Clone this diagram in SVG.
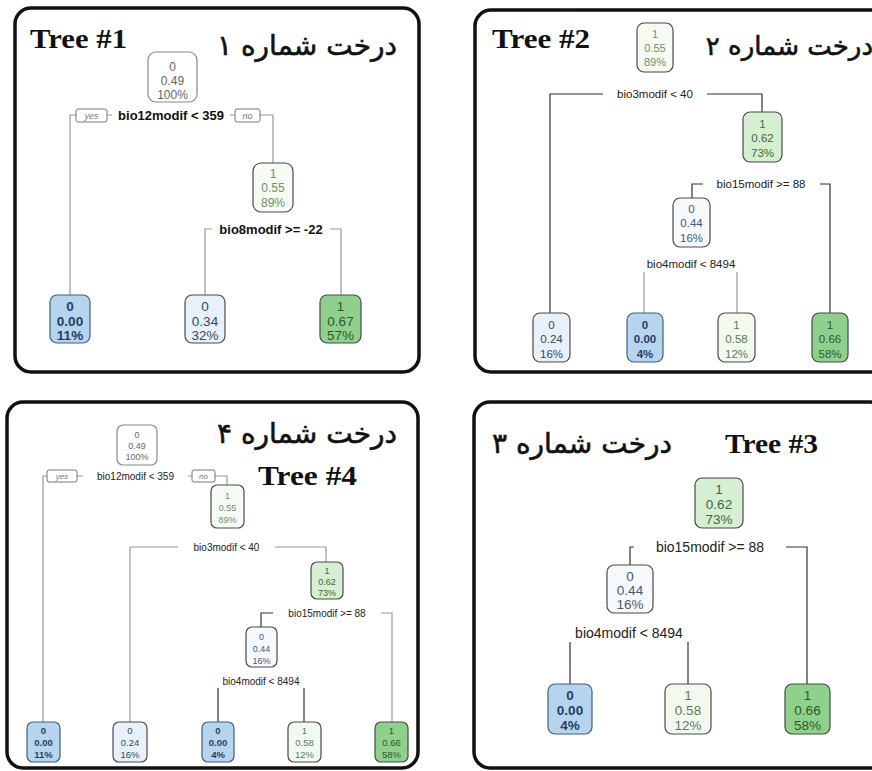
<svg xmlns="http://www.w3.org/2000/svg" width="872" height="771" viewBox="0 0 872 771">
<style>
.frame{fill:#fff;stroke:#111;stroke-width:3.5}
.title{font-family:"Liberation Serif",serif;font-weight:bold;font-size:28px;fill:#111}
.fa{font-family:"DejaVu Sans",sans-serif;font-size:28px;fill:#111;stroke:#111;stroke-width:0.6}
.nd rect{stroke:#4a4a4a;stroke-width:1.2}
.nd text{font-family:"Liberation Sans",Arial,sans-serif;text-anchor:middle}
.root rect{fill:#fff;stroke:#888}
.root text{fill:#666}
.blue rect{fill:#b7d4ee;stroke:#3e5f7e}
.blue text{fill:#1f3f66;font-weight:bold}
.lblue rect{fill:#e8f1fa}
.lblue text{fill:#34495f}
.pale rect{fill:#f6f9fd}
.pale text{fill:#4a5a6a}
.g0 rect{fill:#f6fbf4}
.g0 text{fill:#6f8f6f}
.g1 rect{fill:#d6eed2}
.g1 text{fill:#3c6a3c}
.g2 rect{fill:#f2faef}
.g2 text{fill:#5a7a5a}
.g3 rect{fill:#8fd08c}
.g3 text{fill:#2b5a2b}
.cn{fill:none;stroke:#999;stroke-width:1.2}
.cn2{fill:none;stroke:#333;stroke-width:1.2}
.lbl{font-family:"Liberation Sans",Arial,sans-serif;fill:#111;font-weight:bold;text-anchor:middle}
.lbln{font-family:"Liberation Sans",Arial,sans-serif;fill:#222;text-anchor:middle}
.yn{fill:#fff;stroke:#777;stroke-width:1}
.ynt{font-family:"Liberation Sans",Arial,sans-serif;font-style:italic;fill:#777;text-anchor:middle}
</style>

<!-- Panel 1 -->
<g id="panel1">
<rect class="frame" x="15" y="8" width="404" height="364" rx="16"/>
<text class="title" x="30" y="48" textLength="97" lengthAdjust="spacingAndGlyphs">Tree #1</text>
<text class="fa" x="397" y="55" text-anchor="end">درخت شماره ۱</text>
<g id="p1-connectors">
<path class="cn" d="M70,295 V115 H76 M107,115 H112 M230,115 H235 M260,115 H273 V163"/>
<rect class="yn" x="76" y="109" width="31" height="13" rx="2"/>
<text class="ynt" x="91.5" y="119" font-size="9">yes</text>
<rect class="yn" x="235" y="109" width="25" height="13" rx="2"/>
<text class="ynt" x="247.5" y="119" font-size="9">no</text>
<text class="lbl" x="171" y="120" font-size="13">bio12modif &lt; 359</text>
<path class="cn" d="M205,295 V229 H212 M330,229 H341 V295"/>
<text class="lbl" x="271" y="234" font-size="13">bio8modif &gt;= -22</text>
</g>
<g id="p1-n1" class="nd root"><rect x="148" y="52" width="49" height="50" rx="8"/><text font-size="12"><tspan x="172.5" y="71">0</tspan><tspan x="172.5" y="85">0.49</tspan><tspan x="172.5" y="99">100%</tspan></text></g>
<g id="p1-n2" class="nd g0"><rect x="253" y="163" width="40" height="49" rx="8"/><text font-size="12"><tspan x="273" y="178">1</tspan><tspan x="273" y="192">0.55</tspan><tspan x="273" y="207">89%</tspan></text></g>
<g id="p1-l1" class="nd blue"><rect x="50" y="295" width="40" height="48" rx="7"/><text font-size="13.5"><tspan x="70" y="311">0</tspan><tspan x="70" y="325.5">0.00</tspan><tspan x="70" y="340">11%</tspan></text></g>
<g id="p1-l2" class="nd lblue"><rect x="185" y="295" width="40" height="48" rx="7"/><text font-size="13.5"><tspan x="205" y="311">0</tspan><tspan x="205" y="325.5">0.34</tspan><tspan x="205" y="340">32%</tspan></text></g>
<g id="p1-l3" class="nd g3"><rect x="320" y="295" width="41" height="48" rx="7"/><text font-size="13.5"><tspan x="340.5" y="311">1</tspan><tspan x="340.5" y="325.5">0.67</tspan><tspan x="340.5" y="340">57%</tspan></text></g>
</g>

<!-- Panel 2 -->
<g id="panel2">
<rect class="frame" x="475" y="10" width="412" height="362" rx="16"/>
<text class="title" x="492" y="48" textLength="98" lengthAdjust="spacingAndGlyphs">Tree #2</text>
<text class="fa" x="873" y="55" text-anchor="end" style="font-size:26px">درخت شماره ۲</text>
<g id="p2-connectors">
<path class="cn2" d="M550,313 V94 H603 M707,94 H762 V112"/>
<text class="lbln" x="655" y="98" font-size="11.5">bio3modif &lt; 40</text>
<path class="cn2" d="M692,198 V184 H703 M820,184 H830 V313"/>
<text class="lbln" x="761" y="188" font-size="11.5">bio15modif &gt;= 88</text>
<text class="lbln" x="691" y="268" font-size="11.5">bio4modif &lt; 8494</text>
<path class="cn" d="M644,272 V313 M737,272 V313"/>
</g>
<g id="p2-n1" class="nd g0"><rect x="637" y="23" width="36" height="49" rx="7"/><text font-size="11"><tspan x="655" y="38">1</tspan><tspan x="655" y="52">0.55</tspan><tspan x="655" y="66">89%</tspan></text></g>
<g id="p2-n2" class="nd g1"><rect x="743" y="112" width="39" height="50" rx="7"/><text font-size="11.5"><tspan x="762.5" y="128">1</tspan><tspan x="762.5" y="142">0.62</tspan><tspan x="762.5" y="157">73%</tspan></text></g>
<g id="p2-n3" class="nd pale"><rect x="673" y="198" width="37" height="49" rx="7"/><text font-size="11.5"><tspan x="691.5" y="213">0</tspan><tspan x="691.5" y="227">0.44</tspan><tspan x="691.5" y="242">16%</tspan></text></g>
<g id="p2-l1" class="nd lblue"><rect x="533" y="313" width="37" height="49" rx="7"/><text font-size="11.5"><tspan x="551.5" y="329">0</tspan><tspan x="551.5" y="343">0.24</tspan><tspan x="551.5" y="358">16%</tspan></text></g>
<g id="p2-l2" class="nd blue"><rect x="627" y="313" width="36" height="49" rx="7"/><text font-size="11.5"><tspan x="645" y="329">0</tspan><tspan x="645" y="343">0.00</tspan><tspan x="645" y="358">4%</tspan></text></g>
<g id="p2-l3" class="nd g2"><rect x="718" y="313" width="37" height="49" rx="7"/><text font-size="11.5"><tspan x="736.5" y="329">1</tspan><tspan x="736.5" y="343">0.58</tspan><tspan x="736.5" y="358">12%</tspan></text></g>
<g id="p2-l4" class="nd g3"><rect x="812" y="313" width="36" height="49" rx="7"/><text font-size="11.5"><tspan x="830" y="329">1</tspan><tspan x="830" y="343">0.66</tspan><tspan x="830" y="358">58%</tspan></text></g>
</g>

<!-- Panel 3 -->
<g id="panel3">
<rect class="frame" x="474" y="402" width="412" height="366" rx="16"/>
<text class="fa" x="672" y="453" text-anchor="end">درخت شماره ۳</text>
<text class="title" x="725" y="453" textLength="93" lengthAdjust="spacingAndGlyphs">Tree #3</text>
<g id="p3-connectors">
<path class="cn2" d="M630,565 V547 H634 M786,547 H807 V684"/>
<text class="lbln" x="710" y="552" font-size="14">bio15modif &gt;= 88</text>
<text class="lbln" x="629" y="638" font-size="14">bio4modif &lt; 8494</text>
<path class="cn2" d="M570,642 V684 M688,642 V684"/>
</g>
<g id="p3-n1" class="nd g1"><rect x="695" y="478" width="48" height="50" rx="7"/><text font-size="13.5"><tspan x="719" y="494">1</tspan><tspan x="719" y="509">0.62</tspan><tspan x="719" y="524">73%</tspan></text></g>
<g id="p3-n2" class="nd pale"><rect x="607" y="565" width="46" height="48" rx="7"/><text font-size="13.5"><tspan x="630" y="581">0</tspan><tspan x="630" y="595">0.44</tspan><tspan x="630" y="609">16%</tspan></text></g>
<g id="p3-l1" class="nd blue"><rect x="548" y="684" width="44" height="50" rx="7"/><text font-size="13.5"><tspan x="570" y="700">0</tspan><tspan x="570" y="715">0.00</tspan><tspan x="570" y="730">4%</tspan></text></g>
<g id="p3-l2" class="nd g2"><rect x="665" y="684" width="46" height="50" rx="7"/><text font-size="13.5"><tspan x="688" y="700">1</tspan><tspan x="688" y="715">0.58</tspan><tspan x="688" y="730">12%</tspan></text></g>
<g id="p3-l3" class="nd g3"><rect x="785" y="684" width="45" height="50" rx="7"/><text font-size="13.5"><tspan x="807.5" y="700">1</tspan><tspan x="807.5" y="715">0.66</tspan><tspan x="807.5" y="730">58%</tspan></text></g>
</g>

<!-- Panel 4 -->
<g id="panel4">
<rect class="frame" x="7" y="402" width="411" height="366" rx="16"/>
<text class="fa" x="397" y="443" text-anchor="end">درخت شماره ۴</text>
<text class="title" x="258" y="485" textLength="99" lengthAdjust="spacingAndGlyphs">Tree #4</text>
<g id="p4-connectors">
<path class="cn" d="M43,722 V476 H47 M77,476 H83 M188,476 H192 M215,476 H227 V485"/>
<rect class="yn" x="47" y="470" width="30" height="12" rx="2"/>
<text class="ynt" x="62" y="479" font-size="8">yes</text>
<rect class="yn" x="192" y="470" width="23" height="12" rx="2"/>
<text class="ynt" x="203.5" y="479" font-size="8">no</text>
<text class="lbln" x="135.5" y="480" font-size="10">bio12modif &lt; 359</text>
<path class="cn" d="M130,722 V547 H178 M275,547 H326 V562"/>
<text class="lbln" x="226.5" y="551" font-size="10">bio3modif &lt; 40</text>
<path class="cn2" d="M261,627 V613 H273"/>
<path class="cn" d="M381,613 H392 V722"/>
<text class="lbln" x="327" y="617" font-size="10">bio15modif &gt;= 88</text>
<text class="lbln" x="261" y="685" font-size="10">bio4modif &lt; 8494</text>
<path class="cn2" d="M218,688 V722 M304,688 V722"/>
</g>
<g id="p4-n1" class="nd root"><rect x="117" y="425" width="40" height="40" rx="6"/><text font-size="9"><tspan x="137" y="438">0</tspan><tspan x="137" y="449">0.49</tspan><tspan x="137" y="460">100%</tspan></text></g>
<g id="p4-n2" class="nd g0"><rect x="211" y="485" width="33" height="43" rx="6"/><text font-size="9"><tspan x="227.5" y="499">1</tspan><tspan x="227.5" y="511">0.55</tspan><tspan x="227.5" y="523">89%</tspan></text></g>
<g id="p4-n3" class="nd g1"><rect x="311" y="562" width="32" height="37" rx="6"/><text font-size="9"><tspan x="327" y="574">1</tspan><tspan x="327" y="585">0.62</tspan><tspan x="327" y="596">73%</tspan></text></g>
<g id="p4-n4" class="nd pale"><rect x="246" y="627" width="31" height="40" rx="6"/><text font-size="9"><tspan x="261.5" y="640">0</tspan><tspan x="261.5" y="652">0.44</tspan><tspan x="261.5" y="664">16%</tspan></text></g>
<g id="p4-l1" class="nd blue"><rect x="27" y="722" width="33" height="40" rx="6"/><text font-size="9.5"><tspan x="43.5" y="734">0</tspan><tspan x="43.5" y="746">0.00</tspan><tspan x="43.5" y="758">11%</tspan></text></g>
<g id="p4-l2" class="nd lblue"><rect x="113" y="722" width="34" height="40" rx="6"/><text font-size="9.5"><tspan x="130" y="734">0</tspan><tspan x="130" y="746">0.24</tspan><tspan x="130" y="758">16%</tspan></text></g>
<g id="p4-l3" class="nd blue"><rect x="202" y="722" width="32" height="40" rx="6"/><text font-size="9.5"><tspan x="218" y="734">0</tspan><tspan x="218" y="746">0.00</tspan><tspan x="218" y="758">4%</tspan></text></g>
<g id="p4-l4" class="nd g2"><rect x="288" y="722" width="33" height="40" rx="6"/><text font-size="9.5"><tspan x="304.5" y="734">1</tspan><tspan x="304.5" y="746">0.58</tspan><tspan x="304.5" y="758">12%</tspan></text></g>
<g id="p4-l5" class="nd g3"><rect x="375" y="722" width="33" height="40" rx="6"/><text font-size="9.5"><tspan x="391.5" y="734">1</tspan><tspan x="391.5" y="746">0.66</tspan><tspan x="391.5" y="758">58%</tspan></text></g>
</g>
</svg>
